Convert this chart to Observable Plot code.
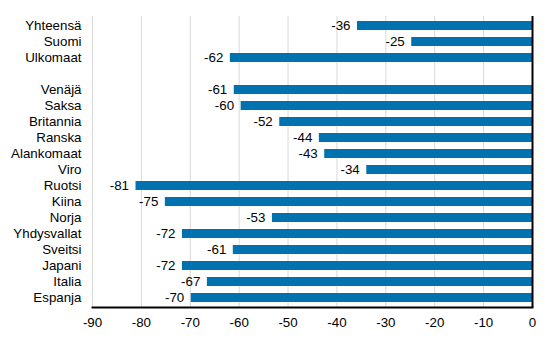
<!DOCTYPE html>
<html>
<head>
<meta charset="utf-8">
<script src="https://cdn.jsdelivr.net/npm/d3@7"></script>
<script src="https://cdn.jsdelivr.net/npm/@observablehq/plot@0.6"></script>
<style>
  body { margin: 0; background: #fff; }
</style>
</head>
<body>
<div id="chart"></div>
<script>
const categories = ["Yhteensä", "Suomi", "Ulkomaat", "", "Venäjä", "Saksa", "Britannia", "Ranska", "Alankomaat", "Viro", "Ruotsi", "Kiina", "Norja", "Yhdysvallat", "Sveitsi", "Japani", "Italia", "Espanja"];
const names = ["Yhteensä", "Suomi", "Ulkomaat", "Venäjä", "Saksa", "Britannia", "Ranska", "Alankomaat", "Viro", "Ruotsi", "Kiina", "Norja", "Yhdysvallat", "Sveitsi", "Japani", "Italia", "Espanja"];
const values = [-35.8, -24.7, -61.8, -61.0, -59.6, -51.7, -43.6, -42.5, -33.9, -81.1, -75.1, -53.2, -71.6, -61.2, -71.6, -66.5, -69.8];
const labels = ["-36", "-25", "-62", "-61", "-60", "-52", "-44", "-43", "-34", "-81", "-75", "-53", "-72", "-61", "-72", "-67", "-70"];
const xTicks = [-90, -80, -70, -60, -50, -40, -30, -20, -10, 0];

const data = names.map((n, i) => ({name: n, value: values[i], label: labels[i]}));
const fs = 13.33;

const chart = Plot.plot({
  width: 553,
  height: 340,
  marginLeft: 92,
  marginRight: 21,
  marginTop: 16,
  marginBottom: 33,
  style: {fontFamily: "'Liberation Sans', Arial, sans-serif", fontSize: fs + "px", color: "#000", background: "#fff"},
  x: {domain: [-90, 0], axis: null},
  y: {domain: categories, paddingInner: 0.44, paddingOuter: 0.22, axis: null},
  marks: [
    Plot.gridX(xTicks, {stroke: "#d9d9d9", strokeOpacity: 1}),
    Plot.barX(data, {x: "value", y: "name", fill: "#0072b0"}),
    Plot.text(data, {x: "value", y: "name", text: "label", textAnchor: "end", dx: -7, fill: "#000", fontSize: fs}),
    Plot.ruleX([0], {stroke: "#000", strokeWidth: 2}),
    Plot.frame({anchor: "bottom", stroke: "#000", strokeWidth: 2}),
    Plot.axisX(xTicks, {tickSize: 0, tickPadding: 10, fontSize: fs, fill: "#000", label: null, tickFormat: d => String(d)}),
    Plot.axisY({tickSize: 0, tickPadding: 11, fontSize: fs, fill: "#000", label: null, tickFormat: d => d})
  ]
});
document.getElementById("chart").appendChild(chart);
</script>
</body>
</html>
